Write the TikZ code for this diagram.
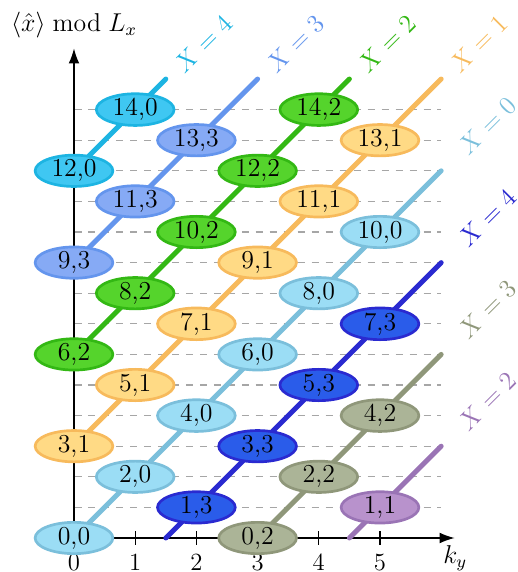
\documentclass[tikz,border=0pt]{standalone}
\usetikzlibrary{arrows.meta,shapes.geometric}
\definecolor{lbL}{HTML}{7BBFDB}\definecolor{lbF}{HTML}{9BDDF5}
\definecolor{orL}{HTML}{F7BA5C}\definecolor{orF}{HTML}{FFDA85}
\definecolor{grL}{HTML}{33B814}\definecolor{grF}{HTML}{55D42C}
\definecolor{cfL}{HTML}{6495ED}\definecolor{cfF}{HTML}{86AAF5}
\definecolor{cyL}{HTML}{1DB4E2}\definecolor{cyF}{HTML}{3FC7F2}
\definecolor{dbL}{HTML}{2A2AD0}\definecolor{dbF}{HTML}{2A5CEA}
\definecolor{gyL}{HTML}{8F977A}\definecolor{gyF}{HTML}{ABB497}
\definecolor{puL}{HTML}{9A74B5}\definecolor{puF}{HTML}{B892CC}
\begin{document}
\begin{tikzpicture}[x=1cm,y=0.5cm,
  font=\fontsize{11.5}{14}\selectfont,
  st/.style={ellipse, draw, line width=1.25pt, inner sep=0pt, minimum width=1.27cm, minimum height=0.48cm, font=\fontsize{12}{14}\selectfont},
  ln/.style={line width=2.3pt, line cap=round},
  lab/.style={rotate=45, inner sep=0pt},
  gridln/.style={black!35, dash pattern=on 3.5pt off 3pt, line width=0.5pt},
  ax/.style={line width=0.6pt, -{Latex[length=7pt,width=5pt]}}]
\useasboundingbox (-1.209,-1.111) rectangle (7.255,17.582);
% grid
\foreach \n in {1,...,14} \draw[gridln] (0,\n) -- (6,\n);
% axes
\coordinate (O) at (0,0);
\coordinate (xe) at (6.22,0);
\coordinate (ye) at (0,16);
\draw[ax] (O) -- (xe);
\draw[ax] (O) -- (ye);
\node (ylab) at (0,16.76) {$\langle\hat{x}\rangle \bmod L_x$};
\node (xlab) at (6.23,-0.66) {$k_y$};
\foreach \k in {1,...,5} \draw[line width=0.6pt] (\k,0.22) -- (\k,-0.22);
\foreach \k in {0,...,5} \node[anchor=north, inner sep=0pt] (t\k) at (\k,-0.5) {\k};
% line endpoints
\coordinate (s0) at (0,0);   \coordinate (e0) at (6,12);
\coordinate (s1) at (0,3);   \coordinate (e1) at (6,15);
\coordinate (s2) at (0,6);   \coordinate (e2) at (4.5,15);
\coordinate (s3) at (0,9);   \coordinate (e3) at (3,15);
\coordinate (s4) at (0,12);  \coordinate (e4) at (1.5,15);
\coordinate (s5) at (1.5,0); \coordinate (e5) at (6,9);
\coordinate (s6) at (3,0);   \coordinate (e6) at (6,6);
\coordinate (s7) at (4.5,0); \coordinate (e7) at (6,3);
\draw[ln, lbL] (s0) -- (e0);
\draw[ln, orL] (s1) -- (e1);
\draw[ln, grL] (s2) -- (e2);
\draw[ln, cfL] (s3) -- (e3);
\draw[ln, cyL] (s4) -- (e4);
\draw[ln, dbL] (s5) -- (e5);
\draw[ln, gyL] (s6) -- (e6);
\draw[ln, puL] (s7) -- (e7);
% labels
\node[lab, text=cyL] (L4) at (2.11,16.14) {$X=4$};
\node[lab, text=cfL] (L3) at (3.61,16.14) {$X=3$};
\node[lab, text=grL] (L2) at (5.11,16.14) {$X=2$};
\node[lab, text=orL] (L1) at (6.61,16.14) {$X=1$};
\node[lab, text=lbL] (L0) at (6.75,13.47) {$X=0$};
\node[lab, text=dbL] (L4b) at (6.75,10.47) {$X=4$};
\node[lab, text=gyL] (L3b) at (6.75,7.47) {$X=3$};
\node[lab, text=puL] (L2b) at (6.75,4.47) {$X=2$};
% nodes
\foreach \lbl/\k/\n in {{0,0}/0/0, {2,0}/1/2, {4,0}/2/4, {6,0}/3/6, {8,0}/4/8, {10,0}/5/10}
  \node[st, draw=lbL, fill=lbF] at (\k,\n) {\lbl};
\foreach \lbl/\k/\n in {{3,1}/0/3, {5,1}/1/5, {7,1}/2/7, {9,1}/3/9, {11,1}/4/11, {13,1}/5/13}
  \node[st, draw=orL, fill=orF] at (\k,\n) {\lbl};
\foreach \lbl/\k/\n in {{6,2}/0/6, {8,2}/1/8, {10,2}/2/10, {12,2}/3/12, {14,2}/4/14}
  \node[st, draw=grL, fill=grF] at (\k,\n) {\lbl};
\foreach \lbl/\k/\n in {{9,3}/0/9, {11,3}/1/11, {13,3}/2/13}
  \node[st, draw=cfL, fill=cfF] at (\k,\n) {\lbl};
\foreach \lbl/\k/\n in {{12,0}/0/12, {14,0}/1/14}
  \node[st, draw=cyL, fill=cyF] at (\k,\n) {\lbl};
\foreach \lbl/\k/\n in {{1,3}/2/1, {3,3}/3/3, {5,3}/4/5, {7,3}/5/7}
  \node[st, draw=dbL, fill=dbF] at (\k,\n) {\lbl};
\foreach \lbl/\k/\n in {{0,2}/3/0, {2,2}/4/2, {4,2}/5/4}
  \node[st, draw=gyL, fill=gyF] at (\k,\n) {\lbl};
\foreach \lbl/\k/\n in {{1,1}/5/1}
  \node[st, draw=puL, fill=puF] at (\k,\n) {\lbl};
\end{tikzpicture}
\end{document}
